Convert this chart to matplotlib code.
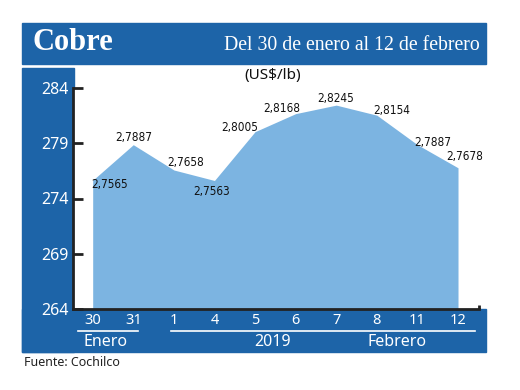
import matplotlib
matplotlib.use("Agg")
import matplotlib.pyplot as plt
from matplotlib.patches import Rectangle
from matplotlib.lines import Line2D

# Copper price, cents of US$ per lb (labels in US$/lb)
days = ["30", "31", "1", "4", "5", "6", "7", "8", "11", "12"]
price_labels = ["2,7565", "2,7887", "2,7658", "2,7563", "2,8005",
                "2,8168", "2,8245", "2,8154", "2,7887", "2,7678"]
prices = [275.65, 278.87, 276.58, 275.63, 280.05,
          281.68, 282.45, 281.54, 278.87, 276.78]
y_ticks = [264, 269, 274, 279, 284]

# label offsets (pixels) relative to each point
label_offsets = [(17, -4), (0, 7), (12, 7), (-3, -11), (-15, 4),
                 (-14, 5), (-1, 7), (15, 5), (15, 2), (7, 11)]

W, H = 520, 390
DARK = "#1d64a8"
AREA = "#7cb4e1"
SANS = ["Noto Sans", "DejaVu Sans"]

fig = plt.figure(figsize=(W / 100, H / 100), dpi=100)


def fx(x):
    return x / W


def fy(y):
    return 1 - y / H


def band(x0, y0, x1, y1):
    fig.add_artist(Rectangle((fx(x0), fy(y1)), fx(x1) - fx(x0), fy(y0) - fy(y1),
                             transform=fig.transFigure, color=DARK, zorder=0))


# blue header and frame bands
band(22, 23, 486, 64)
band(22, 68, 74, 352)
band(22, 309, 486, 352)

fig.text(fx(32), fy(43), "Cobre", color="white", fontsize=22, fontweight="bold",
         family="Liberation Serif", va="center", ha="left")
fig.text(fx(480), fy(46), "Del 30 de enero al 12 de febrero", color="white",
         fontsize=14.2, family="Liberation Serif", va="center", ha="right")

ax = fig.add_axes([fx(73), fy(309), fx(479) - fx(73), fy(88) - fy(309)])
ax.set_facecolor("white")
x = list(range(len(days)))
ax.fill_between(x, prices, 264, color=AREA, linewidth=0)
ax.set_ylim(264, 284)
ax.set_xlim(-0.485, 9.517)

for s in ["top", "right"]:
    ax.spines[s].set_visible(False)
for s in ["left", "bottom"]:
    ax.spines[s].set_linewidth(2)
    ax.spines[s].set_color("#222222")
ax.plot([1, 1], [0, 0.02], transform=ax.transAxes, color="#222222", lw=2,
        clip_on=False, solid_capstyle="butt")

ax.set_yticks(y_ticks)
ax.set_yticklabels([str(t) for t in y_ticks], color="white", fontsize=11.5, family=SANS)
ax.tick_params(axis="y", direction="in", length=7, width=2, color="#222222", pad=3)
ax.set_xticks(x)
ax.set_xticklabels(days, color="white", fontsize=10.5, family=SANS)
ax.tick_params(axis="x", length=0, pad=3)

for xi, v, lab, (dx, dy) in zip(x, prices, price_labels, label_offsets):
    ax.annotate(lab, (xi, v), xytext=(dx * 0.72, dy * 0.72), textcoords="offset points",
                ha="center", va="center", fontsize=8.5, family="DejaVu Sans",
                fontstretch="condensed", color="#111111")

fig.text(fx(273), fy(75), "(US$/lb)", fontsize=11, family=SANS, ha="center",
         va="center", color="#111111")

# month / year underlines and labels
fig.add_artist(Line2D([fx(78), fx(138)], [fy(331), fy(331)], color="white", lw=1.2))
fig.add_artist(Line2D([fx(171), fx(475)], [fy(331), fy(331)], color="white", lw=1.2))
fig.text(fx(106), fy(342), "Enero", color="white", fontsize=11.5, family=SANS,
         ha="center", va="center")
fig.text(fx(273), fy(342), "2019", color="white", fontsize=11.5, family=SANS,
         ha="center", va="center")
fig.text(fx(397), fy(342), "Febrero", color="white", fontsize=11.5, family=SANS,
         ha="center", va="center")

fig.text(fx(24), fy(363), "Fuente: Cochilco", fontsize=9, family=SANS,
         ha="left", va="center", color="#222222")

fig.savefig("out.png", dpi=100)
